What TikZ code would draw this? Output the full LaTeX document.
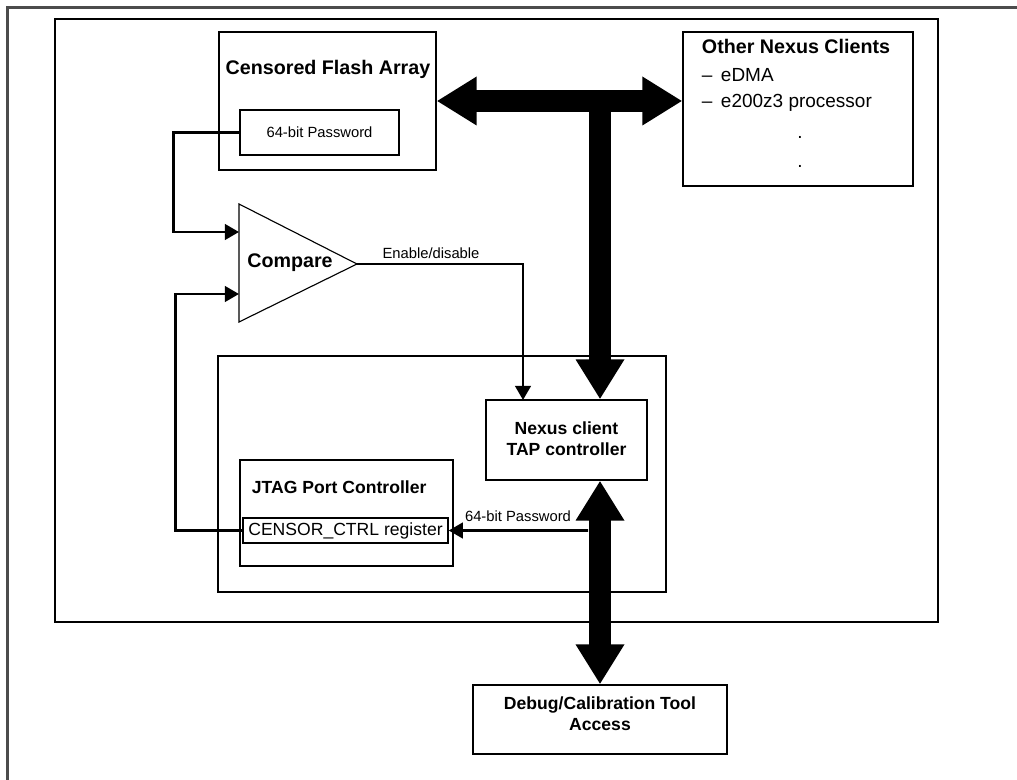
\documentclass[tikz,border=0pt]{standalone}
\usepackage{fontspec}
\setmainfont{Liberation Sans}
\usetikzlibrary{arrows.meta}
\usetikzlibrary{fit}

\tikzset{
  frame/.style={draw, line width=1pt, inner sep=0pt},
  wire/.style={line width=1.9pt, -{Triangle[length=10pt,width=11pt]}},
  bustip/.tip={Triangle[length=28.4pt,width=32.7pt]},
  bus/.style={line width=15.6pt},
  bigtitle/.style={font=\fontsize{14}{16}\selectfont\bfseries},
  midtitle/.style={font=\fontsize{12.5}{15}\selectfont\bfseries, align=center},
  plain/.style={font=\fontsize{13.5}{16}\selectfont},
  small/.style={font=\fontsize{10.5}{12}\selectfont},
}

\begin{document}
\begin{tikzpicture}[x=0.025cm, y=-0.025cm]
\useasboundingbox (0,0) rectangle (1017,780);

% page frame and chip frame
\draw[black!70, line width=1.8pt] (7.5,780) -- (7.5,7.5) -- (1017,7.5);
\draw[line width=1.1pt] (55,19) rectangle (938,622);

% flash array
\node[frame, fit={(219,32) (436,170)}] (flash) {};
\node[bigtitle] (flashtitle) at (328,69) {Censored Flash Array};
\node[frame, fit={(240,110) (399,155)}] (pwbox) {};
\node[small] (pwtext) at (319.5,132) {64-bit Password};

% other clients
\node[frame, fit={(683,32) (913,186)}] (others) {};
\node[bigtitle, anchor=west] (otherstitle) at (697,46) {Other Nexus Clients};
\node[plain, anchor=west] (edma) at (697,75) {–\, eDMA};
\node[plain, anchor=west] (core) at (697,103) {–\, e200z3 processor};
\node[plain] (dota) at (800,137) {.};
\node[plain] (dotb) at (800,166) {.};

% compare
\coordinate (cmpin1) at (239,232);
\coordinate (cmpin2) at (239,294);
\coordinate (cmpout) at (357,264);
\draw[line width=0.8pt] (239,204) -- (cmpout) -- (239,322) -- cycle;
\node[bigtitle] (cmp) at (290,263) {Compare};

% debug block
\node[frame, fit={(218,356) (666,592)}] (dbgblock) {};
\node[frame, fit={(486,400) (647,480)}] (nexus) {};
\node[midtitle] (nexustext) at (566.5,439) {Nexus client\\TAP controller};
\node[frame, fit={(240,460) (453,566)}] (jtag) {};
\node[midtitle, anchor=west] (jtagtitle) at (247,487) {JTAG Port Controller};
\node[frame, fit={(243,518) (448,543)}] (censor) {};
\node[font=\fontsize{12.5}{15}\selectfont] (censortext) at (345.5,530.5) {CENSOR\_CTRL register};

% tool access
\node[frame, fit={(473,685) (727,754)}] (tool) {};
\node[midtitle] (tooltext) at (600,714) {Debug/Calibration Tool\\Access};

% buses
\coordinate (jn) at (600,101);
\draw[bus, bustip-bustip] (flash.east) -- (flash.east -| others.west);
\draw[bus, -bustip] (jn) -- (nexus.north -| jn);
\draw[bus, bustip-bustip] (nexus.south -| tool.north) -- (tool.north);

% password path
\coordinate (pwtap) at (588,530.5);
\coordinate (entap) at (523,400);
\draw[wire] (pwbox.west) -- ++(-66,0) |- (cmpin1);
\draw[wire] (censor.west) -- ++(-67,0) |- (cmpin2);
\draw[wire] (cmpout) -| (entap);
\node[small] (entext) at (431,253) {Enable/disable};
\draw[wire] (pwtap) -- (censor.east);
\node[small] (pwlabel) at (518,516) {64-bit Password};

\end{tikzpicture}
\end{document}
